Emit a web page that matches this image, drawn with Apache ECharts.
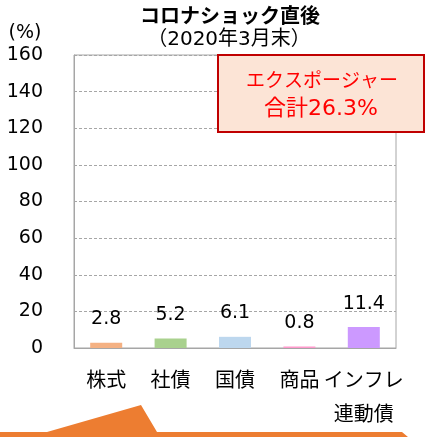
<!DOCTYPE html>
<html>
<head>
<meta charset="utf-8">
<script src="https://cdn.jsdelivr.net/npm/echarts@6/dist/echarts.min.js"></script>
<style>
  html, body { margin: 0; padding: 0; background: #fff; }
  #chart { width: 426px; height: 437px; }
</style>
</head>
<body>
<div id="chart"></div>
<script>
// データ
var categories = ['株式', '社債', '国債', '商品', 'インフレ\n連動債'];
var values = [2.8, 5.2, 6.1, 0.8, 11.4];
var barColors = ['#F4B183', '#A9D18E', '#BDD7EE', '#FF99CC', '#CC99FF'];
var yTicks = [0, 20, 40, 60, 80, 100, 120, 140, 160];

// 数字は幅の広いDejaVu、日本語はNoto CJK
var FONT = '"DejaVu Sans", "Noto Sans CJK JP", sans-serif';

var chartDom = document.getElementById('chart');
var myChart = echarts.init(chartDom);
var option;

option = {
    animation: false,
    textStyle: { fontFamily: FONT },
    grid: {
        left: 74, right: 30, top: 55, bottom: 89,
        show: true, borderColor: '#A6A6A6', borderWidth: 1
    },
    xAxis: {
        type: 'category',
        data: categories,
        axisLine: { show: true, lineStyle: { color: '#A6A6A6' } },
        axisTick: { show: false },
        axisLabel: {
            color: '#000', fontSize: 20, fontFamily: FONT,
            margin: 17, lineHeight: 34, interval: 0
        }
    },
    yAxis: {
        type: 'value',
        min: yTicks[0],
        max: yTicks[yTicks.length - 1],
        interval: 20,
        axisLine: { show: true, lineStyle: { color: '#A6A6A6' } },
        axisTick: { show: false },
        axisLabel: { color: '#000', fontSize: 19, fontFamily: FONT, margin: 31 },
        splitLine: { lineStyle: { color: '#A6A6A6', type: [3, 2] } }
    },
    series: [
        {
            type: 'bar',
            barWidth: 32,
            data: values.map(function (v, i) {
                return { value: v, itemStyle: { color: barColors[i] } };
            }),
            label: {
                show: true, position: 'top', distance: 14,
                color: '#000', fontSize: 19, fontFamily: FONT
            }
        }
    ],
    graphic: [
        { type: 'text', x: 230, y: 15, style: {
            text: 'コロナショック直後', fill: '#000', align: 'center', verticalAlign: 'middle',
            font: 'bold 20px "Noto Sans CJK JP"' } },
        { type: 'text', x: 229, y: 40, style: {
            text: '（2020年3月末）', fill: '#000', align: 'center', verticalAlign: 'middle',
            font: '20px ' + FONT } },
        { type: 'text', x: 25, y: 33, style: {
            text: '(%)', fill: '#000', align: 'center', verticalAlign: 'middle',
            font: '19px ' + FONT } },
        { type: 'rect', z: 100, shape: { x: 218, y: 55, width: 206, height: 77 },
          style: { fill: '#FCE4D6', stroke: '#C00000', lineWidth: 2 } },
        { type: 'text', z: 101, x: 322, y: 82, style: {
            text: 'エクスポージャー', fill: '#FF0000', font: '19px ' + FONT,
            align: 'center', verticalAlign: 'middle' } },
        { type: 'text', z: 101, x: 321, y: 109, style: {
            text: '合計26.3%', fill: '#FF0000', font: '22px ' + FONT,
            align: 'center', verticalAlign: 'middle' } },
        { type: 'polygon', z: 100, shape: { points: [[0, 437], [0, 432], [47, 432], [141, 405], [157, 432], [402, 432], [408, 437]] },
          style: { fill: '#ED7D31' } }
    ]
};

option && myChart.setOption(option);
</script>
</body>
</html>
